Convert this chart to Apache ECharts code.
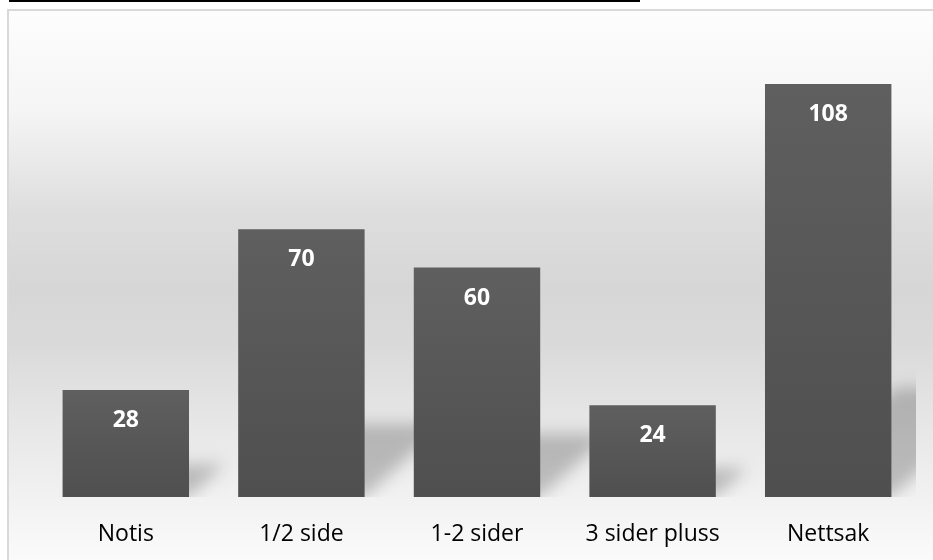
<!DOCTYPE html>
<html>
<head>
<meta charset="utf-8">
<script src="https://cdn.jsdelivr.net/npm/echarts@6/dist/echarts.min.js"></script>
<style>
html,body{margin:0;padding:0;background:#fff;}
#c{width:933px;height:560px;}
</style>
</head>
<body>
<div id="c"></div>
<script>
var categories = ['Notis', '1/2 side', '1-2 sider', '3 sider pluss', 'Nettsak'];
var values = [28, 70, 60, 24, 108];

var chart = echarts.init(document.getElementById('c'));
var OFF = 3000;

var option = {
  animation: false,
  graphic: {
    elements: [
      {
        type: 'rect', z: -10, silent: true,
        shape: { x: 8, y: 10, width: 940, height: 560 },
        style: {
          fill: new echarts.graphic.LinearGradient(0, 0, 0, 1, [
            { offset: 0, color: '#fdfdfd' },
            { offset: 0.18, color: '#f5f5f5' },
            { offset: 0.36, color: '#dedede' },
            { offset: 0.5, color: '#d6d6d6' },
            { offset: 0.6, color: '#dadada' },
            { offset: 0.73, color: '#e6e6e6' },
            { offset: 0.85, color: '#f0f0f0' },
            { offset: 1, color: '#fcfcfc' }
          ]),
          stroke: '#d9d9d9', lineWidth: 2
        }
      },
      {
        type: 'rect', z: -5, silent: true,
        shape: { x: 9, y: 0, width: 631, height: 2 },
        style: { fill: '#000' }
      }
    ]
  },
  grid: { left: 38, right: 17, top: 38, bottom: 63 },
  xAxis: {
    type: 'category',
    data: categories,
    axisLine: { show: false },
    axisTick: { show: false },
    axisLabel: {
      color: '#000', fontFamily: 'Open Sans', fontSize: 23, margin: 26
    }
  },
  yAxis: {
    type: 'value', min: 0, max: 120, show: false,
    splitLine: { show: false }
  },
  series: [
    {
      type: 'custom',
      z: 1,
      silent: true,
      clip: true,
      data: values.map(function (v, i) { return [i, v]; }),
      renderItem: function (params, api) {
        var idx = api.value(0), val = api.value(1);
        var p0 = api.coord([idx, 0]);
        var p1 = api.coord([idx, val]);
        var bw = api.size([1, 0])[0] * 0.72;
        var x0 = p0[0] - bw / 2, x1 = p0[0] + bw / 2, y0 = p0[1];
        var h = y0 - p1[1];
        var hs = h * 0.25 + 6;
        var dx = hs * 1.1;
        return {
          type: 'polygon',
          shape: { points: [
            [x0 + 10 - OFF, y0], [x1 - OFF, y0],
            [x1 + dx - OFF, y0 - hs], [x0 + 10 + dx - OFF, y0 - hs]
          ] },
          style: {
            fill: '#000',
            shadowColor: 'rgba(0,0,0,0.22)',
            shadowBlur: 16,
            shadowOffsetX: OFF,
            shadowOffsetY: 0
          }
        };
      }
    },
    {
      type: 'bar',
      z: 2,
      data: values,
      barWidth: '72%',
      itemStyle: {
        color: new echarts.graphic.LinearGradient(0, 0, 0, 1, [
          { offset: 0, color: '#5f5f5f' },
          { offset: 1, color: '#4f4f4f' }
        ])
      },
      label: {
        show: true,
        position: 'insideTop',
        distance: 19,
        color: '#fff',
        fontFamily: 'Open Sans',
        fontWeight: 'bold',
        fontSize: 23
      }
    }
  ]
};
chart.setOption(option);
</script>
</body>
</html>
